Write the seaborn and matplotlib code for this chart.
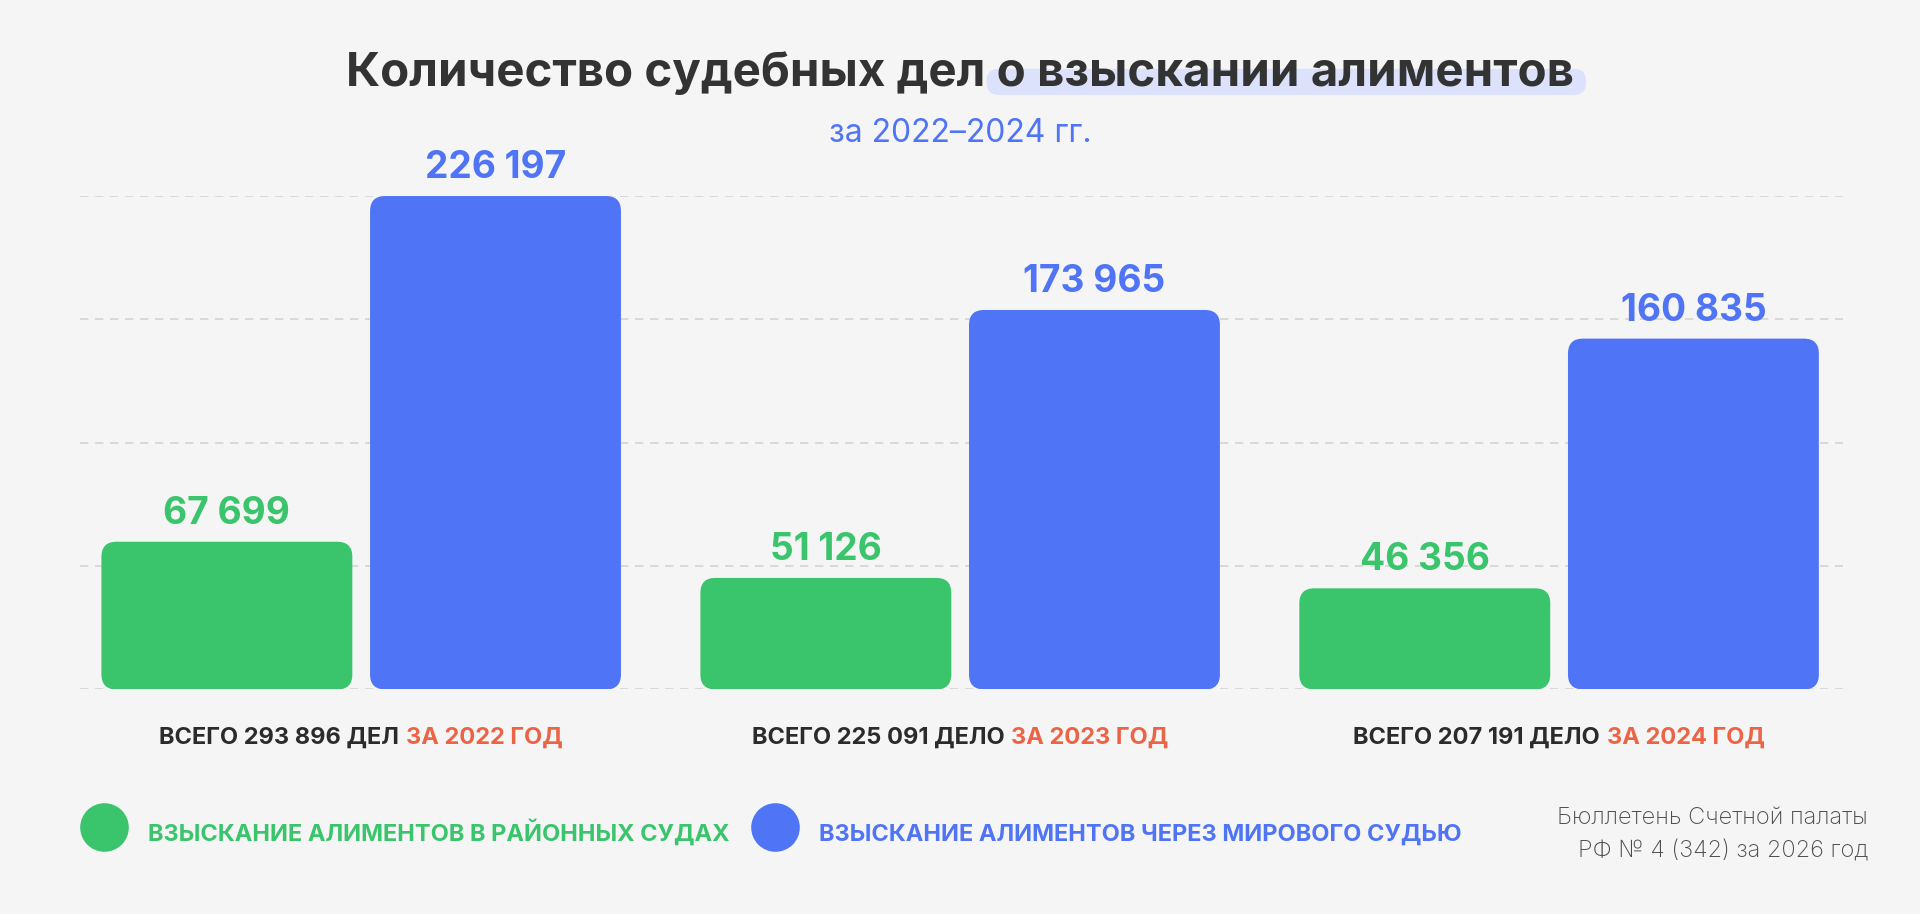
import numpy as np
import pandas as pd
import seaborn as sns
import matplotlib.pyplot as plt
from matplotlib.patches import FancyBboxPatch
from matplotlib.lines import Line2D
from matplotlib.offsetbox import TextArea, HPacker, AnnotationBbox

# data
years = ["2022", "2023", "2024"]
district = [67699, 51126, 46356]
magistrate = [226197, 173965, 160835]
total_words = ["ДЕЛ", "ДЕЛО", "ДЕЛО"]
series = ["ВЗЫСКАНИЕ АЛИМЕНТОВ В РАЙОННЫХ СУДАХ",
          "ВЗЫСКАНИЕ АЛИМЕНТОВ ЧЕРЕЗ МИРОВОГО СУДЬЮ"]
title = "Количество судебных дел о взыскании алиментов"
title_mark = "о взыскании алиментов"
subtitle = "за 2022–2024 гг."
source = ["Бюллетень Счетной палаты", "РФ № 4 (342) за 2026 год"]

GREEN = "#3ac46c"
BLUE = "#5074f6"
ORANGE = "#ec6446"
DARK = "#2b2b2b"
BG = "#f5f5f5"


def fmt(v):
    return f"{int(round(v)):,}".replace(",", " ")


df = pd.DataFrame({
    "year": years * 2,
    "series": [series[0]] * 3 + [series[1]] * 3,
    "value": district + magistrate,
})

sns.set_theme(style="white")
plt.rcParams['font.family'] = ['Inter', 'DejaVu Sans']

fig = plt.figure(figsize=(19.2, 9.14), dpi=100, facecolor=BG)
ax = fig.add_axes([0.0415, 0.2457, 0.9184, 0.5398])
ax.set_facecolor(BG)

sns.barplot(df, x="year", y="value", hue="series", palette=[GREEN, BLUE],
            width=0.897, gap=0.066, saturation=1, legend=False, ax=ax)

ymax = max(magistrate)
ax.set_ylim(0, ymax)
ax.set_xlim(-0.470, 2.474)
ax.set_yticks(np.linspace(0, ymax, 5))
ax.yaxis.grid(True, ls=(0, (5, 4)), color="#d4d4d4", lw=1.2)
ax.set_axisbelow(True)
sns.despine(ax=ax, left=True, bottom=True)
ax.tick_params(length=0, labelbottom=False, labelleft=False)
ax.set_xlabel("")
ax.set_ylabel("")

# rounded bars
fig.canvas.draw()
bb = ax.get_window_extent()
px_x = (ax.get_xlim()[1] - ax.get_xlim()[0]) / bb.width
px_y = (ax.get_ylim()[1] - ax.get_ylim()[0]) / bb.height
bars = [(p.get_x(), p.get_width(), p.get_height(), p.get_facecolor()) for p in ax.patches]
for p in list(ax.patches):
    p.remove()
for x, w, h, fc in bars:
    ax.add_patch(FancyBboxPatch((x, 0), w, h,
                                boxstyle=f"round,pad=0,rounding_size={15 * px_x}",
                                mutation_aspect=px_y / px_x,
                                fc=fc, ec="none", zorder=2))
    ax.annotate(fmt(h), (x + w / 2, h), xytext=(0, 13), textcoords="offset points",
                ha="center", va="baseline", color=fc, fontsize=26.7, fontweight="bold")

# category labels
for i, yr in enumerate(years):
    total = district[i] + magistrate[i]
    a = TextArea(f"ВСЕГО {fmt(total)} {total_words[i]}",
                 textprops=dict(color=DARK, fontsize=17, fontweight="bold"))
    b = TextArea(f"ЗА {yr} ГОД",
                 textprops=dict(color=ORANGE, fontsize=17, fontweight="bold"))
    pack = HPacker(children=[a, b], sep=5, pad=0, align="baseline")
    ab = AnnotationBbox(pack, (i, 0), xybox=(0, -27), xycoords="data",
                        boxcoords="offset points", box_alignment=(0.5, 1),
                        frameon=False)
    ax.add_artist(ab)

# title with highlight
TSIZE = 34.2
t = fig.text(0.5, 0.906, title, ha="center", va="baseline", fontsize=TSIZE,
             fontweight="bold", color="#333333", zorder=3)
renderer = fig.canvas.get_renderer()
tb = t.get_window_extent(renderer)
tmp = fig.text(0, 0, title_mark, fontsize=TSIZE, fontweight="bold")
mw = tmp.get_window_extent(renderer).width
tmp.remove()
W, H = fig.bbox.width, fig.bbox.height
x0 = tb.x1 - mw - 10
x1 = tb.x1 + 12
base = 0.906 * H
y0, y1 = base - 9, base + 17
fig.add_artist(FancyBboxPatch((x0 / W, y0 / H), (x1 - x0) / W, (y1 - y0) / H,
                              boxstyle=f"round,pad=0,rounding_size={12 / W}",
                              mutation_aspect=W / H, transform=fig.transFigure,
                              fc="#dce2fc", ec="none", zorder=1))

fig.text(0.5, 0.845, subtitle, ha="center", va="baseline", fontsize=23, color=BLUE)

# legend
handles = [Line2D([], [], ls="none", marker="o", markersize=35,
                  markerfacecolor=c, markeredgecolor="none") for c in (GREEN, BLUE)]
leg = fig.legend(handles, series, loc="center left", bbox_to_anchor=(0.0415, 0.0886),
                 ncol=2, frameon=False, prop={"weight": "bold", "size": 17},
                 handlelength=2.05, handleheight=2.05, handletextpad=0.85,
                 columnspacing=0.88, borderpad=0, borderaxespad=0)
for txt, c in zip(leg.get_texts(), (GREEN, BLUE)):
    txt.set_color(c)

# source
fig.text(0.973, 0.0985, source[0], ha="right", va="baseline", fontsize=17,
         fontweight="light", color="#4d4d4d")
fig.text(0.973, 0.0613, source[1], ha="right", va="baseline", fontsize=17,
         fontweight="light", color="#4d4d4d")

fig.savefig("out.png", dpi=100, facecolor=BG)
